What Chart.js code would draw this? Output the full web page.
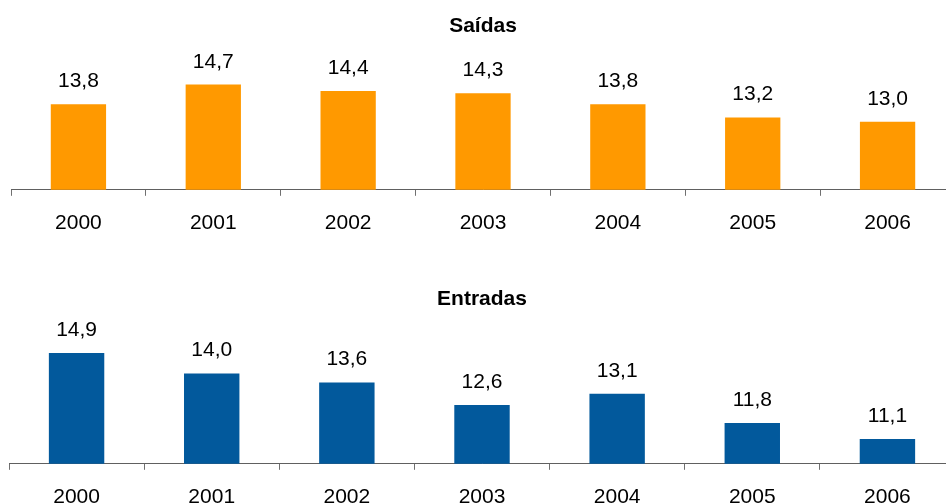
<!DOCTYPE html>
<html>
<head>
<meta charset="utf-8">
<script src="https://cdn.jsdelivr.net/npm/chart.js@4.4.1/dist/chart.umd.min.js"></script>
<style>
  html, body { margin: 0; padding: 0; background: #fff; overflow: hidden; width: 946px; height: 503px; }
  .box { position: absolute; left: 0; }
</style>
</head>
<body>
<div class="box" style="top:0"><canvas id="saidas" width="960" height="259"></canvas></div>
<div class="box" style="top:260px"><canvas id="entradas" width="960" height="279"></canvas></div>
<script>
"use strict";

const years = ["2000", "2001", "2002", "2003", "2004", "2005", "2006"];
const saidas = [13.8, 14.7, 14.4, 14.3, 13.8, 13.2, 13.0];
const entradas = [14.9, 14.0, 13.6, 12.6, 13.1, 11.8, 11.1];

const FONT = "'Liberation Sans', Arial, sans-serif";

// draws the value above each bar, pt-BR decimal comma
const valueLabels = {
  id: "valueLabels",
  afterDatasetsDraw: (chart) => {
    const { ctx } = chart;
    const meta = chart.getDatasetMeta(0);
    const values = chart.data.datasets[0].data;
    ctx.save();
    ctx.font = `21px ${FONT}`;
    ctx.fillStyle = "#000";
    ctx.textAlign = "center";
    ctx.textBaseline = "alphabetic";
    meta.data.forEach((bar, i) => {
      ctx.fillText(values[i].toFixed(1).replace(".", ","), bar.x, bar.y - 17);
    });
    ctx.restore();
  },
};

const makeChart = (id, title, values, color, pad, titlePad, yMin, yMax) => {
  const ctx = document.getElementById(id).getContext("2d");
  return new Chart(ctx, {
    type: "bar",
    data: {
      labels: years,
      datasets: [
        {
          data: values,
          backgroundColor: color,
          borderWidth: 0,
          categoryPercentage: 1,
          barPercentage: 0.41,
        },
      ],
    },
    options: {
      responsive: false,
      animation: false,
      layout: { padding: pad },
      plugins: {
        legend: { display: false },
        tooltip: { enabled: false },
        title: {
          display: true,
          text: title,
          color: "#000",
          font: { family: FONT, size: 21, weight: "bold" },
          padding: titlePad,
        },
      },
      scales: {
        x: {
          offset: true,
          grid: {
            display: true,
            offset: true,
            drawOnChartArea: false,
            drawTicks: true,
            tickLength: 6,
            color: "#707070",
          },
          border: { display: true, color: "#606060", width: 1 },
          ticks: {
            color: "#000",
            padding: 15,
            font: { family: FONT, size: 21 },
          },
        },
        y: {
          display: false,
          min: yMin,
          max: yMax,
        },
      },
    },
    plugins: [valueLabels],
  });
};

makeChart("saidas", "Saídas", saidas, "#FF9900",
  { left: 11, right: 5, top: 0, bottom: 8 }, { top: 14, bottom: 19 }, 9.9, 15.9);
makeChart("entradas", "Entradas", entradas, "#02599C",
  { left: 9, right: 5, top: 0, bottom: 14 }, { top: 27, bottom: 16 }, 10, 16);
</script>
</body>
</html>
